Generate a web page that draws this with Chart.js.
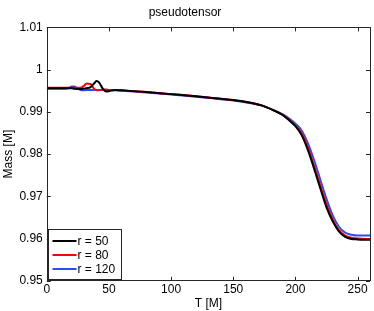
<!DOCTYPE html>
<html>
<head>
<meta charset="utf-8">
<script src="https://cdn.jsdelivr.net/npm/chart.js@4/dist/chart.umd.min.js"></script>
<style>
  html, body { margin: 0; padding: 0; background: #fff; }
  #wrap { width: 374px; height: 311px; position: relative; }
</style>
</head>
<body>
<div id="wrap"><canvas id="chartMass"></canvas></div>
<script>
'use strict';

// time samples (T [M]) shared by all three radii
var times = [0, 10, 15, 18, 20, 22, 25, 28, 30, 32, 35, 38, 40, 42, 45, 48, 50, 55, 60, 80, 100, 120, 140, 150, 163, 175, 185, 190, 195, 200, 205, 210, 215, 220, 225, 230, 235, 240, 245, 250, 260];

var massR50 = [0.9956, 0.9956, 0.9956, 0.9956, 0.9956, 0.9955, 0.9954, 0.9954, 0.9955, 0.9956, 0.9958, 0.9967, 0.9973, 0.9970, 0.9955, 0.9948, 0.9949, 0.9952, 0.9951, 0.9947, 0.9942, 0.9937, 0.9931,
  0.9928, 0.9922, 0.9913, 0.9900, 0.9892, 0.9880, 0.9866, 0.9845, 0.9810, 0.9766, 0.9719, 0.9674, 0.9641, 0.9617, 0.9604, 0.9599, 0.9598, 0.9597];
var massR80 = [0.9957, 0.9957, 0.9957, 0.9957, 0.9957, 0.9957, 0.9957, 0.9958, 0.9962, 0.9967, 0.9966, 0.9955, 0.9951, 0.9951, 0.9953, 0.9953, 0.9952, 0.9952, 0.9951, 0.9947, 0.9942, 0.9937, 0.9931,
  0.9928, 0.9922, 0.9913, 0.9900, 0.9892, 0.9881, 0.9868, 0.9849, 0.9816, 0.9772, 0.9726, 0.9681, 0.9645, 0.9620, 0.9607, 0.9602, 0.9600, 0.9599];
var massR120 = [0.9955, 0.9955, 0.9955, 0.9957, 0.9960, 0.9960, 0.9955, 0.9951, 0.9951, 0.9952, 0.9952, 0.9952, 0.9952, 0.9952, 0.9952, 0.9952, 0.9951, 0.9951, 0.9950, 0.9946, 0.9941, 0.9936, 0.9930,
  0.9927, 0.9921, 0.9913, 0.9901, 0.9894, 0.9884, 0.9872, 0.9856, 0.9826, 0.9786, 0.9740, 0.9694, 0.9655, 0.9628, 0.9614, 0.9609, 0.9607, 0.9607];

var seriesLabels = ['r = 50', 'r = 80', 'r = 120'];
var seriesColors = ['#000000', '#ff0000', '#2a4cff'];

var xTicks = [0, 50, 100, 150, 200, 250];
var yTicks = [0.95, 0.96, 0.97, 0.98, 0.99, 1, 1.01];

var FONT = 'Liberation Sans, Arial, Helvetica, sans-serif';

function toPoints(ys) {
  return times.map(function (t, i) { return { x: t, y: ys[i] }; });
}

// MATLAB style frame with inward ticks on all four sides
var boxTicks = {
  id: 'boxTicks',
  afterDatasetsDraw: function (chart) {
    var ctx = chart.ctx, a = chart.chartArea;
    var xs = chart.scales.x, ys = chart.scales.y;
    ctx.save();
    ctx.strokeStyle = '#262626';
    ctx.lineWidth = 1;
    ctx.beginPath();
    xTicks.forEach(function (v) {
      var px = Math.round(xs.getPixelForValue(v)) + 0.5;
      ctx.moveTo(px, a.bottom); ctx.lineTo(px, a.bottom - 4);
      ctx.moveTo(px, a.top); ctx.lineTo(px, a.top + 4);
    });
    yTicks.forEach(function (v) {
      var py = Math.round(ys.getPixelForValue(v)) + 0.5;
      ctx.moveTo(a.left, py); ctx.lineTo(a.left + 4, py);
      ctx.moveTo(a.right, py); ctx.lineTo(a.right - 4, py);
    });
    ctx.stroke();
    ctx.strokeRect(Math.round(a.left) + 0.5, Math.round(a.top) + 0.5,
      Math.round(a.right - a.left), Math.round(a.bottom - a.top));
    ctx.restore();
  }
};

// legend drawn inside the lower-left corner of the plot
var innerLegend = {
  id: 'innerLegend',
  afterDraw: function (chart) {
    var ctx = chart.ctx, a = chart.chartArea;
    var rowH = 14, w = 73, h = chart.data.datasets.length * rowH + 8;
    var x0 = Math.round(a.left) + 1.5, y0 = Math.round(a.bottom) - h - 1.5;
    ctx.save();
    ctx.fillStyle = '#fff';
    ctx.fillRect(x0, y0, w, h);
    ctx.strokeStyle = '#262626';
    ctx.lineWidth = 1;
    ctx.strokeRect(x0, y0, w, h);
    ctx.font = '12px ' + FONT;
    ctx.textBaseline = 'middle';
    chart.data.datasets.forEach(function (ds, i) {
      var cy = Math.round(y0 + 4 + rowH * i + rowH / 2);
      ctx.strokeStyle = ds.borderColor;
      ctx.lineWidth = 2;
      ctx.beginPath();
      ctx.moveTo(x0 + 4, cy); ctx.lineTo(x0 + 28, cy);
      ctx.stroke();
      ctx.fillStyle = '#000';
      ctx.fillText(ds.label, x0 + 29, cy + 1);
    });
    ctx.restore();
  }
};

var canvas = document.getElementById('chartMass');
new Chart(canvas.getContext('2d'), {
  type: 'line',
  data: {
    datasets: [massR50, massR80, massR120].map(function (ys, i) {
      return {
        label: seriesLabels[i],
        data: toPoints(ys),
        borderColor: seriesColors[i],
        borderWidth: 2,
        pointRadius: 0,
        cubicInterpolationMode: 'monotone',
        fill: false
      };
    })
  },
  options: {
    animation: false,
    responsive: true,
    maintainAspectRatio: false,
    layout: { padding: { top: 0, right: 4, bottom: 1, left: 0 } },
    scales: {
      x: {
        type: 'linear',
        min: 0,
        max: 260,
        afterBuildTicks: function (s) { s.ticks = xTicks.map(function (v) { return { value: v }; }); },
        grid: { display: false, drawTicks: false },
        border: { display: false },
        ticks: { color: '#000', font: { family: FONT, size: 12, lineHeight: 1.1 }, padding: 2, maxRotation: 0 },
        title: { display: true, text: 'T [M]', color: '#000', font: { family: FONT, size: 12, lineHeight: 1.0 }, padding: { top: 0, bottom: 0 } }
      },
      y: {
        min: 0.95,
        max: 1.01,
        afterBuildTicks: function (s) { s.ticks = yTicks.map(function (v) { return { value: v }; }); },
        grid: { display: false, drawTicks: false },
        border: { display: false },
        ticks: {
          color: '#000', font: { family: FONT, size: 12 }, padding: 4,
          callback: function (v) { return String(Math.round(v * 100) / 100); }
        },
        title: { display: true, text: 'Mass [M]', color: '#000', font: { family: FONT, size: 12 }, padding: { top: 1, bottom: 0 } }
      }
    },
    plugins: {
      legend: { display: false },
      tooltip: { enabled: false },
      title: {
        display: true,
        text: 'pseudotensor',
        color: '#000',
        font: { family: FONT, size: 12, weight: 'normal' },
        padding: { top: 5, bottom: 8 }
      }
    }
  },
  plugins: [boxTicks, innerLegend]
});
</script>
</body>
</html>
